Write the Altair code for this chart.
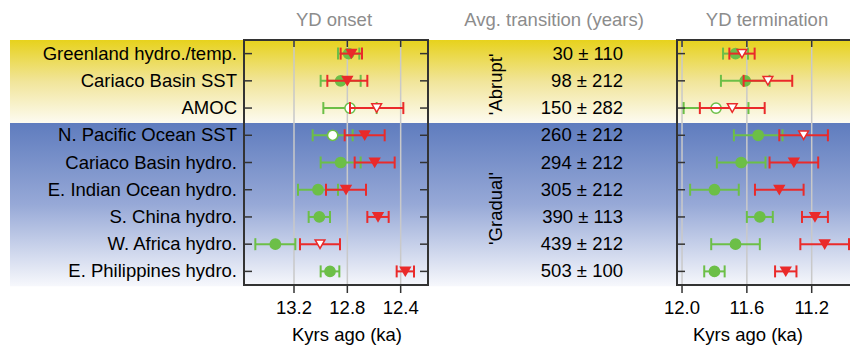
import altair as alt
import pandas as pd

# ---------------- data ----------------
labels = ["Greenland hydro./temp.", "Cariaco Basin SST", "AMOC", "N. Pacific Ocean SST",
          "Cariaco Basin hydro.", "E. Indian Ocean hydro.", "S. China hydro.",
          "W. Africa hydro.", "E. Philippines hydro."]
transition = ["30 ± 110", "98 ± 212", "150 ± 282", "260 ± 212", "294 ± 212",
              "305 ± 212", "390 ± 113", "439 ± 212", "503 ± 100"]

# YD onset (ka): transition start (green) and end (red)
onset_start = [12.79, 12.85, 12.78, 12.91, 12.85, 13.02, 13.01, 13.34, 12.93]
onset_start_err = [0.08, 0.15, 0.20, 0.15, 0.15, 0.15, 0.08, 0.15, 0.07]
onset_start_open = [False, False, True, True, False, False, False, False, False]
onset_end = [12.77, 12.80, 12.58, 12.67, 12.595, 12.81, 12.57, 13.005, 12.365]
onset_end_err = [0.08, 0.15, 0.20, 0.15, 0.15, 0.15, 0.08, 0.15, 0.065]
onset_end_open = [False, False, True, False, False, False, False, True, False]

# YD termination (ka)
term_start = [11.67, 11.61, 11.79, 11.53, 11.635, 11.80, 11.52, 11.67, 11.80]
term_start_err = [0.077, 0.15, 0.20, 0.15, 0.15, 0.15, 0.08, 0.15, 0.063]
term_start_open = [False, False, True, False, False, False, False, False, False]
term_end = [11.63, 11.47, 11.69, 11.25, 11.31, 11.40, 11.18, 11.12, 11.36]
term_end_err = [0.078, 0.15, 0.20, 0.15, 0.15, 0.15, 0.08, 0.15, 0.066]
term_end_open = [True, True, True, True, False, False, False, False, False]

onset_ticks = [13.2, 12.8, 12.4]
onset_tick_labels = ["13.2", "12.8", "12.4"]
term_ticks = [12.0, 11.6, 11.2]
term_tick_labels = ["12.0", "11.6", "11.2"]
group_names = ["'Abrupt'", "'Gradual'"]
group_pos = [1.13, 5.69]
headings = ["YD onset", "Avg. transition (years)", "YD termination"]
axis_title = "Kyrs ago (ka)"

# ---------------- style ----------------
GREEN = "#6cbf47"
RED = "#ea2a2a"
FRAME = "#333333"
GRID = "#c9c9c9"
FONT = "Liberation Sans"
FS = 18.5
W, H = 840, 245

rows = list(range(len(labels)))
ys = alt.Scale(domain=[-0.5, 8.5], reverse=True, nice=False, zero=False)
one = pd.DataFrame({"a": [0]})


def series_df(center, err, opn):
    return pd.DataFrame({
        "row": rows,
        "c": center,
        "lo": [c - e for c, e in zip(center, err)],
        "hi": [c + e for c, e in zip(center, err)],
        "open": opn,
    })


def series_layers(df, xs, col, shape, size):
    Y = alt.Y("row:Q", scale=ys, axis=None)
    bar = alt.Chart(df).mark_rule(color=col, strokeWidth=2).encode(
        x=alt.X("lo:Q", scale=xs, axis=None), x2="hi:Q", y=Y)
    caps = alt.Chart(df).transform_fold(["lo", "hi"], as_=["k", "v"]).mark_rule(
        color=col, strokeWidth=2, yOffset=-6, y2Offset=6).encode(
        x=alt.X("v:Q", scale=xs, axis=None), y=Y, y2="row:Q")
    pts = alt.Chart(df).mark_point(shape=shape, size=size, filled=True, stroke=col,
                                   strokeWidth=1.5, opacity=1).encode(
        x=alt.X("c:Q", scale=xs, axis=None), y=Y,
        fill=alt.condition("datum.open", alt.value("white"), alt.value(col)))
    return [bar, caps, pts]


def panel(s, se, so, e, ee, eo, dom, rng, ticks, tick_labels, title_x):
    xs = alt.Scale(domain=dom, range=rng, nice=False, zero=False)
    tdf = pd.DataFrame({"t": ticks, "lab": tick_labels})
    X_t = alt.X("t:Q", scale=xs, axis=None)
    grid = alt.Chart(tdf).mark_rule(color=GRID, strokeWidth=1.5).encode(x=X_t)
    top = alt.Chart(tdf).mark_rule(color=FRAME, strokeWidth=1.5, y2Offset=7).encode(
        x=X_t, y=alt.YDatum(-0.5, scale=ys, axis=None), y2=alt.Y2Datum(-0.5))
    bot = alt.Chart(tdf).mark_rule(color=FRAME, strokeWidth=1.5, y2Offset=8).encode(
        x=X_t, y=alt.YDatum(8.5, scale=ys, axis=None), y2=alt.Y2Datum(8.5))
    tlab = alt.Chart(tdf).mark_text(align="center", baseline="middle", font=FONT,
                                    fontSize=FS, color="black").encode(
        x=X_t, y=alt.value(H + 23), text="lab:N")
    ttl = alt.Chart(one).mark_text(align="center", baseline="middle", font=FONT,
                                   fontSize=FS, color="black").encode(
        x=alt.value(title_x), y=alt.value(H + 50), text=alt.value(axis_title))
    frame = alt.Chart(one).mark_rect(fillOpacity=0, stroke=FRAME, strokeWidth=2).encode(
        x=alt.XDatum(dom[0], scale=xs, axis=None), x2=alt.X2Datum(dom[1]),
        y=alt.YDatum(-0.5, scale=ys, axis=None), y2=alt.Y2Datum(8.5))
    rdf = pd.DataFrame({"row": rows})
    rt_l = alt.Chart(rdf).mark_rule(color=FRAME, strokeWidth=1.5, x2Offset=8).encode(
        x=alt.XDatum(dom[0], scale=xs, axis=None), x2=alt.X2Datum(dom[0]),
        y=alt.Y("row:Q", scale=ys, axis=None))
    rt_r = alt.Chart(rdf).mark_rule(color=FRAME, strokeWidth=1.5, x2Offset=-8).encode(
        x=alt.XDatum(dom[1], scale=xs, axis=None), x2=alt.X2Datum(dom[1]),
        y=alt.Y("row:Q", scale=ys, axis=None))
    layers = [grid]
    layers += series_layers(series_df(s, se, so), xs, GREEN, "circle", 105)
    layers += series_layers(series_df(e, ee, eo), xs, RED, "triangle-down", 95)
    layers += [top, bot, frame, rt_l, rt_r, tlab, ttl]
    return alt.layer(*layers)


left = panel(onset_start, onset_start_err, onset_start_open,
             onset_end, onset_end_err, onset_end_open,
             [13.575, 12.195], [234, 418], onset_ticks, onset_tick_labels, 337)
right = panel(term_start, term_start_err, term_start_open,
              term_end, term_end_err, term_end_open,
              [12.031, 10.902], [667, 850], term_ticks, term_tick_labels, 738)

# backgrounds
yellow = alt.Gradient(gradient="linear", x1=0, y1=0, x2=0, y2=1,
                      stops=[alt.GradientStop(color="#e7d21c", offset=0),
                             alt.GradientStop(color="#f1e59a", offset=0.5),
                             alt.GradientStop(color="#fdfbf1", offset=1)])
blue = alt.Gradient(gradient="linear", x1=0, y1=0, x2=0, y2=1,
                    stops=[alt.GradientStop(color="#5f7cbe", offset=0),
                           alt.GradientStop(color="#97a9d7", offset=0.5),
                           alt.GradientStop(color="#f7f8fc", offset=1)])
bg_y = alt.Chart(one).mark_rect(fill=yellow).encode(
    x=alt.value(0), x2=alt.value(W),
    y=alt.YDatum(-0.5, scale=ys, axis=None), y2=alt.Y2Datum(2.55))
bg_b = alt.Chart(one).mark_rect(fill=blue).encode(
    x=alt.value(0), x2=alt.value(W),
    y=alt.YDatum(2.55, scale=ys, axis=None), y2=alt.Y2Datum(8.55))

tx = pd.DataFrame({"row": rows, "label": labels, "trans": transition})
row_text = alt.Chart(tx).mark_text(align="right", baseline="middle", font=FONT,
                                   fontSize=FS, color="black").encode(
    x=alt.value(227), y=alt.Y("row:Q", scale=ys, axis=None), text="label:N")
trans_text = alt.Chart(tx).mark_text(align="right", baseline="middle", font=FONT,
                                     fontSize=FS, color="black").encode(
    x=alt.value(613), y=alt.Y("row:Q", scale=ys, axis=None), text="trans:N")

groups = pd.DataFrame({"g": group_names, "pos": group_pos})
grp_text = alt.Chart(groups).mark_text(angle=270, align="center", baseline="middle",
                                       font=FONT, fontSize=FS, color="black").encode(
    x=alt.value(486), y=alt.Y("pos:Q", scale=ys, axis=None), text="g:N")


def heading(txt, px):
    return alt.Chart(one).mark_text(align="center", baseline="middle", font=FONT,
                                    fontSize=FS, color="#8c8c8c").encode(
        x=alt.value(px), y=alt.value(-20), text=alt.value(txt))


heads = [heading(headings[0], 324), heading(headings[1], 544), heading(headings[2], 757)]

chart = alt.layer(bg_y, bg_b, left, right, row_text, trans_text, grp_text, *heads).resolve_scale(
    x="independent"
).properties(
    width=W, height=H,
    autosize=alt.AutoSizeParams(type="none"),
    padding={"left": 2, "top": 32, "right": 0, "bottom": 61},
    background="white",
).configure_view(stroke=None)

chart.save("out.html", embed_options={"renderer": "svg", "actions": False})
